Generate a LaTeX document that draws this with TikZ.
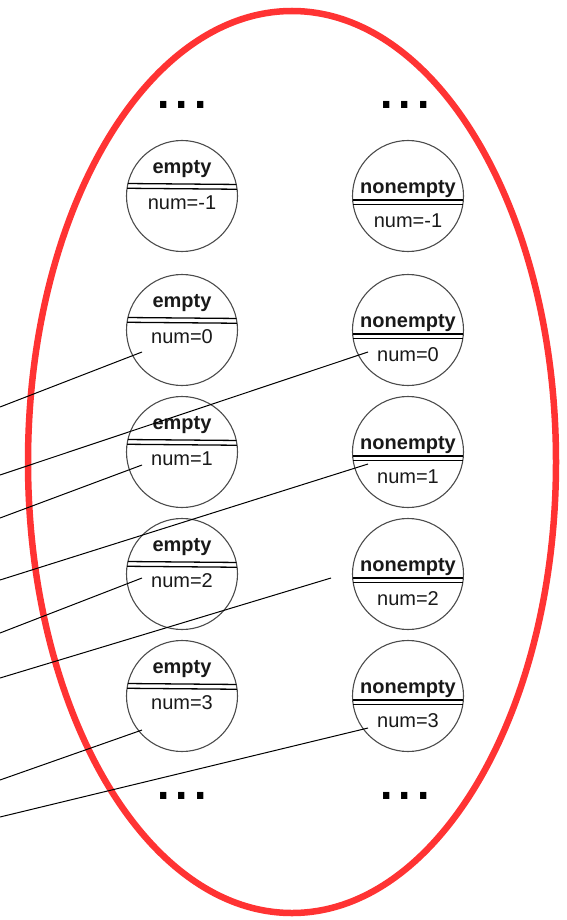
\documentclass[tikz,border=0pt]{standalone}
\usepackage{fontspec}
\setmainfont{Liberation Sans}
\usetikzlibrary{calc}
\definecolor{RingClr}{RGB}{255,51,51}
\definecolor{TxtClr}{RGB}{25,25,25}

\tikzset{
  state/.style={circle,draw=black!70,line width=1.1pt,minimum size=111pt,inner sep=0pt,outer sep=0pt},
  bar/.style={line width=1.3pt,black},
  lbl/.style={inner sep=0pt,text=TxtClr,font=\fontsize{20}{20}\selectfont},
  kind/.style={lbl,font=\fontsize{20}{20}\selectfont\bfseries},
  more/.style={inner sep=0pt,anchor=base,font=\fontsize{66}{66}\selectfont},
  link/.style={line width=1pt,black},
  ring/.style={RingClr,line width=6.5pt}
}

\begin{document}
\begin{tikzpicture}[x=1pt,y=-1pt]
\useasboundingbox (0,0) rectangle (566,920);

% the set
\draw[ring] (292,462) ellipse [x radius=264, y radius=451];

% empty states
\node[state] (Em) at (182,196) {};
\node[state] (E0) at (182,330) {};
\node[state] (E1) at (182,452) {};
\node[state] (E2) at (182,574) {};
\node[state] (E3) at (182,696) {};
% nonempty states
\node[state] (Nm) at (408,196) {};
\node[state] (N0) at (408,330) {};
\node[state] (N1) at (408,452) {};
\node[state] (N2) at (408,574) {};
\node[state] (N3) at (408,696) {};

\foreach \s/\k in {Em/-1,E0/0,E1/1,E2/2,E3/3}{
  \node[kind] at ([yshift=27pt]\s.center) {empty};
  \draw[bar] (\s.167.1) -- (\s.12.9);
  \draw[bar] (\s.172.3) -- (\s.7.7);
  \node[lbl] at ([yshift=-7pt]\s.center) {num=\k};
}
\foreach \s/\k in {Nm/-1,N0/0,N1/1,N2/2,N3/3}{
  \node[kind] at ([yshift=7pt]\s.center) {nonempty};
  \draw[bar] (\s.184.1) -- (\s.-4.1);
  \draw[bar] (\s.189.2) -- (\s.-9.2);
  \node[lbl] at ([yshift=-25pt]\s.center) {num=\k};
}

% dots above and below
\node[more] (dotsEt) at (182,109) {...};
\node[more] (dotsNt) at (405,109) {...};
\node[more] (dotsEb) at (182,799) {...};
\node[more] (dotsNb) at (405,799) {...};

% incoming references
\coordinate (a1) at (0,407);
\coordinate (a2) at (0,475);
\coordinate (a3) at (0,518);
\coordinate (a4) at (0,580);
\coordinate (a5) at (0,633);
\coordinate (a6) at (0,678);
\coordinate (a7) at (0,780);
\coordinate (a8) at (0,817);
\coordinate (t1) at ($(E0)+(-40,22)$);
\coordinate (t2) at ($(N0)+(-40,22)$);
\coordinate (t3) at ($(E1)+(-40,13)$);
\coordinate (t4) at ($(N1)+(-40,12)$);
\coordinate (t5) at ($(E2)+(-40,4)$);
\coordinate (t6) at ($(N2)+(-77,4)$);
\coordinate (t7) at ($(E3)+(-40,34)$);
\coordinate (t8) at ($(N3)+(-40,32)$);
\foreach \i in {1,...,8}
  \draw[link] (a\i) -- (t\i);

\end{tikzpicture}
\end{document}
